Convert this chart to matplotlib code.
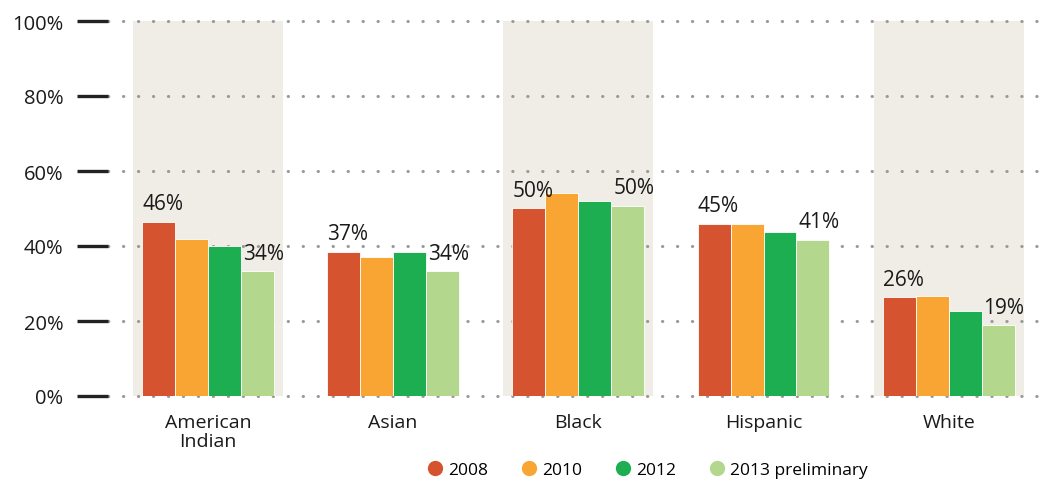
import matplotlib
matplotlib.use("Agg")
import matplotlib.pyplot as plt
import numpy as np
from matplotlib.lines import Line2D

plt.rcParams['font.family'] = ['Open Sans', 'DejaVu Sans']

categories = ["American\nIndian", "Asian", "Black", "Hispanic", "White"]
series_names = ["2008", "2010", "2012", "2013 preliminary"]
values = {
    "2008": [46.4, 38.4, 50.1, 45.9, 26.4],
    "2010": [41.9, 37.1, 54.1, 45.9, 26.7],
    "2012": [40.0, 38.4, 52.0, 43.7, 22.7],
    "2013 preliminary": [33.3, 33.3, 50.7, 41.6, 18.9],
}
labels_2008 = ["46%", "37%", "50%", "45%", "26%"]
labels_2013 = ["34%", "34%", "50%", "41%", "19%"]
shaded = [True, False, True, False, True]
yticks = [0, 20, 40, 60, 80, 100]
ytick_labels = ["0%", "20%", "40%", "60%", "80%", "100%"]

colors = ["#D5532E", "#F8A533", "#1EAE52", "#B4D78E"]
band_color = "#EFEDE5"

fig = plt.figure(figsize=(10.45, 4.85), dpi=100)
ax = fig.add_axes([108/1045, (485-397)/485, (1045-108)/1045, (397-22)/485])

x = np.arange(len(categories))
w = 0.178
for i, s in enumerate(shaded):
    if s:
        ax.axvspan(i - 0.405, i + 0.405, ymin=0, ymax=1, color=band_color, zorder=0, lw=0)

for k, name in enumerate(series_names):
    offs = (k - 1.5) * w
    ax.bar(x + offs, values[name], width=w, color=colors[k], zorder=2,
           edgecolor='white', linewidth=0.6)

for i in range(len(categories)):
    x0 = x[i] - 2 * w
    ax.text(x0, values["2008"][i] + 2.0, labels_2008[i], ha='left', va='bottom',
            fontsize=15, color='#1a1a1a', zorder=3)
    x3 = x[i] + 1.0 * w + 0.01
    ax.text(x3, values["2013 preliminary"][i] + 2.0, labels_2013[i], ha='left', va='bottom',
            fontsize=15, color='#1a1a1a', zorder=3)

ax.set_xlim(-0.54, 4.52)
ax.set_ylim(0, 100)
ax.set_yticks(yticks)
ax.set_yticklabels(ytick_labels, fontsize=14.5, color='#1a1a1a')
ax.tick_params(axis='y', direction='out', length=22, width=2.4, color='#222222', pad=10)
ax.set_xticks(x)
ax.set_xticklabels(categories, fontsize=14, color='#1a1a1a', linespacing=1.1)
ax.tick_params(axis='x', length=0, pad=12)
for sp in ax.spines.values():
    sp.set_visible(False)

for yv in yticks:
    ax.axhline(yv, color='#999999', linestyle=(0, (0.1, 4.8)), linewidth=2.2,
               dash_capstyle='round', zorder=1, clip_on=False)

handles = [Line2D([0], [0], marker='o', linestyle='none', markersize=11,
                  markerfacecolor=c, markeredgecolor='none') for c in colors]
fig.legend(handles, series_names, loc='center', bbox_to_anchor=(0.619, 0.029), ncol=4,
           frameon=False, fontsize=12.5, handletextpad=0.25, columnspacing=1.85,
           handlelength=1.0)

fig.savefig("out.png", dpi=100)
